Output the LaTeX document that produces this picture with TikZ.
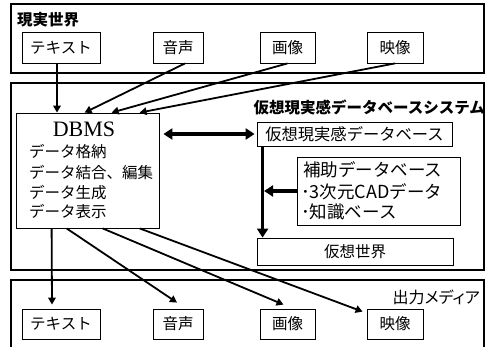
\documentclass[tikz,border=0pt]{standalone}
\usepackage{fontspec}
\setmainfont{Liberation Serif}
\newfontfamily\jp{Noto Sans CJK JP}
\newfontfamily\jpp{Noto Sans CJK JP}[RawFeature=+palt]
\usetikzlibrary{arrows.meta,calc}
\begin{document}
\begin{tikzpicture}[x=1pt,y=-1pt,
 frame/.style={draw, line width=2.2pt, inner sep=0pt},
 box/.style={draw, line width=0.8pt, inner sep=0pt, font=\jp\fontsize{15.5}{18}\selectfont},
 conn/.style={line width=1.8pt, -{Triangle[length=7pt,width=7.5pt]}},
 big/.style={line width=3.5pt, -{Triangle[length=9pt,width=11pt]}},
 bigboth/.style={line width=3.5pt, {Triangle[length=9pt,width=11pt]}-{Triangle[length=9pt,width=11pt]}},
 lbl/.style={anchor=west, inner sep=0pt, font=\jp\fontsize{15.5}{18}\selectfont},
 auxlbl/.style={anchor=west, inner sep=0pt, font=\jp\fontsize{17.5}{18}\selectfont},
 title/.style={inner sep=0pt, font=\jp\bfseries\fontsize{15.5}{18}\selectfont},
]
\useasboundingbox (0,0) rectangle (487,347);
\clip (0,0) rectangle (487,347);
\fill[white] (0,0) rectangle (487,347);
% frames
\node[frame, minimum width=473, minimum height=69] (real) at (247.5,38.5) {};
\node[frame, minimum width=473, minimum height=187] (sys) at (247.5,176.5) {};
\node[frame, minimum width=473, minimum height=80] (out) at (247.5,320) {};
% titles
\node[title, anchor=west] (realt) at (17,20) {現実世界};
\node[title, anchor=east] (syst) at (485,107) {仮想現実感データベースシステム};
\node[inner sep=0pt, anchor=east, font=\jpp\fontsize{16}{18}\selectfont] (outt) at (480,297) {出力メディア};
% top boxes
\node[box, minimum width=78, minimum height=31] (t1) at (61,47.5) {テキスト};
\node[box, minimum width=50, minimum height=31] (t2) at (178,47.5) {音声};
\node[box, minimum width=55, minimum height=31] (t3) at (287.5,47.5) {画像};
\node[box, minimum width=56, minimum height=31] (t4) at (395,47.5) {映像};
% bottom boxes
\node[box, minimum width=78, minimum height=30] (b1) at (61,324) {テキスト};
\node[box, minimum width=50, minimum height=30] (b2) at (178,324) {音声};
\node[box, minimum width=55, minimum height=30] (b3) at (287.5,324) {画像};
\node[box, minimum width=56, minimum height=30] (b4) at (395,324) {映像};
% DBMS
\node[box, minimum width=143, minimum height=115] (dbms) at (87.5,170.5) {};
\node[inner sep=0pt, font=\fontsize{22}{24}\selectfont] (dbmst) at (84,129) {DBMS};
\node[lbl] (d1) at (29,152) {データ格納};
\node[lbl] (d2) at (29,173) {データ結合、編集};
\node[lbl] (d3) at (29,193) {データ生成};
\node[lbl] (d4) at (29,212) {データ表示};
% right side
\node[box, minimum width=195, minimum height=24, font=\jp\fontsize{16.3}{18}\selectfont] (vrdb) at (354.5,134) {仮想現実感データベース};
\node[box, minimum width=163, minimum height=68] (aux) at (378.5,191) {};
\node[auxlbl] (a1) at (303,170) {補助データベース};
\node[auxlbl] (a2) at (301,192) {･{\fontsize{18}{18}\selectfont 3}次元{\fontsize{18}{18}\selectfont CAD}データ};
\node[auxlbl] (a3) at (301,212) {･知識ベース};
\node[box, minimum width=196, minimum height=27] (vw) at (355,251.5) {仮想世界};
% top connectors
\draw[conn] ([xshift=-4pt]t1.south) -- ([xshift=-4pt]t1.south |- dbms.north);
\draw[conn] ([xshift=7pt]t2.south) -- ([xshift=69pt]dbms.north west);
\draw[conn] (t3.south) -- ([xshift=96pt]dbms.north west);
\draw[conn] (t4.south) -- ([xshift=124pt]dbms.north west);
% bottom connectors
\draw[conn] ([xshift=36pt]dbms.south west) -- ([xshift=-9pt,yshift=4pt]b1.north);
\draw[conn] ([xshift=51pt]dbms.south west) -- ([xshift=-1pt,yshift=6pt]b2.north);
\draw[conn] ([xshift=87pt]dbms.south west) -- ([xshift=-4pt,yshift=4pt]b3.north);
\draw[conn] ([xshift=124pt]dbms.south west) -- ([xshift=-4pt,yshift=-3pt]b4.north west);
% thick arrows
\draw[bigboth, shorten <=4pt, shorten >=2pt] (dbms.east |- vrdb.west) -- (vrdb.west);
\coordinate (vtop) at ([xshift=6pt]vrdb.south west);
\draw[big] (vtop) -- ([xshift=6pt]vw.north west);
\draw[big, shorten >=1.5pt] (aux.west) -- (aux.west -| vtop);
\end{tikzpicture}
\end{document}
